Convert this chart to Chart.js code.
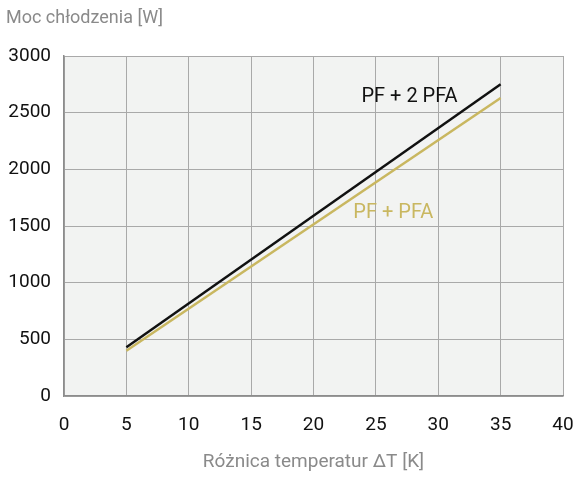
<!DOCTYPE html>
<html>
<head>
<meta charset="utf-8">
<script src="https://cdn.jsdelivr.net/npm/chart.js@4"></script>
<style>
  body { margin: 0; background: #fff; }
  #wrap { width: 577px; height: 478px; }
</style>
</head>
<body>
<div id="wrap"><canvas id="chart" width="577" height="478"></canvas></div>
<script>
const deltaT = [5, 35];
const pf2pfa = [430, 2750];
const pfpfa = [400, 2630];
const seriesNames = ["PF + 2 PFA", "PF + PFA"];
const seriesColors = ["#111111", "#c9b760"];
const labelPos = [[27.7, 2640], [26.4, 1615]];
const xTicks = [0, 5, 10, 15, 20, 25, 30, 35, 40];
const yTicks = [0, 500, 1000, 1500, 2000, 2500, 3000];

const fontFam = "Roboto, sans-serif";

const plotBg = {
  id: "plotBg",
  beforeDraw(chart) {
    const a = chart.chartArea, c = chart.ctx;
    c.save();
    c.fillStyle = "#f2f3f2";
    c.fillRect(a.left, a.top, a.right - a.left, a.bottom - a.top);
    c.restore();
  },
  afterDraw(chart) {
    const c = chart.ctx, xs = chart.scales.x, ys = chart.scales.y;
    c.save();
    c.font = "20px " + fontFam;
    c.textAlign = "center";
    c.textBaseline = "middle";
    seriesNames.forEach((n, i) => {
      c.fillStyle = seriesColors[i];
      c.fillText(n, xs.getPixelForValue(labelPos[i][0]), ys.getPixelForValue(labelPos[i][1]));
    });
    c.font = "18px " + fontFam;
    c.fillStyle = "#8a8a8a";
    c.textAlign = "left";
    c.fillText("Moc chłodzenia [W]", 6, 18);
    c.restore();
  }
};

new Chart(document.getElementById("chart"), {
  type: "line",
  data: {
    datasets: [
      { data: deltaT.map((x, i) => ({ x, y: pf2pfa[i] })), borderColor: seriesColors[0], borderWidth: 2.5, pointRadius: 0 },
      { data: deltaT.map((x, i) => ({ x, y: pfpfa[i] })), borderColor: seriesColors[1], borderWidth: 2.5, pointRadius: 0 }
    ]
  },
  options: {
    responsive: false,
    animation: false,
    layout: { padding: { top: 56, right: 14, left: 0, bottom: 0 } },
    plugins: { legend: { display: false }, tooltip: { enabled: false } },
    scales: {
      x: {
        type: "linear", min: 0, max: 40,
        afterBuildTicks: s => { s.ticks = xTicks.map(v => ({ value: v })); },
        afterFit: s => { s.height = 82; s.paddingLeft = 0; s.paddingRight = 0; },
        grid: { color: "#a9a9a9", lineWidth: 1, drawTicks: false },
        border: { color: "#8c8c8c", width: 1.5 },
        ticks: { color: "#111", padding: 18, font: { family: fontFam, size: 19 }, callback: v => String(v) },
        title: { display: true, text: "Różnica temperatur ΔT [K]", color: "#8a8a8a", padding: { top: 17 }, font: { family: fontFam, size: 19 } }
      },
      y: {
        type: "linear", min: 0, max: 3000,
        afterBuildTicks: s => { s.ticks = yTicks.map(v => ({ value: v })); },
        afterFit: s => { s.width = 64; s.paddingTop = 0; s.paddingBottom = 0; },
        grid: { color: "#a9a9a9", lineWidth: 1, drawTicks: false },
        border: { color: "#8c8c8c", width: 1.5 },
        ticks: { color: "#111", padding: 13, font: { family: fontFam, size: 19 }, callback: v => String(v) }
      }
    }
  },
  plugins: [plotBg]
});
</script>
</body>
</html>
